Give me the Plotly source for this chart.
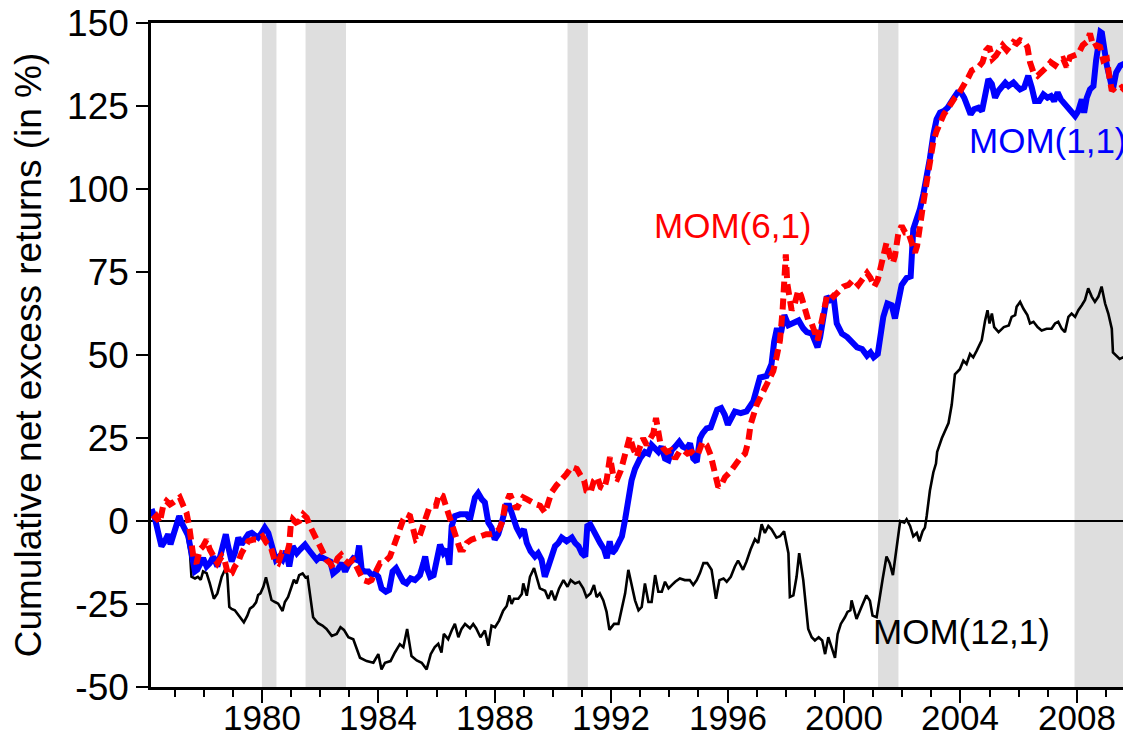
import plotly.graph_objects as go

# ---------------- data ----------------
mom12_x = [1977.10, 1977.18, 1977.40, 1977.53, 1977.58, 1977.70, 1977.80, 1977.90, 1977.98, 1978.10,
           1978.21, 1978.35, 1978.47, 1978.62, 1978.73, 1978.81, 1978.88, 1978.96, 1979.07, 1979.24,
           1979.38, 1979.50, 1979.59, 1979.70, 1979.80, 1979.87, 1979.95, 1980.05, 1980.14, 1980.22,
           1980.33, 1980.45, 1980.56, 1980.71, 1980.79, 1980.90, 1981.02, 1981.10, 1981.19, 1981.28,
           1981.40, 1981.50, 1981.57, 1981.67, 1981.76, 1981.93, 1982.08, 1982.22, 1982.40, 1982.57,
           1982.70, 1982.82, 1982.97, 1983.14, 1983.25, 1983.37, 1983.60, 1983.83, 1984.00, 1984.11,
           1984.23, 1984.42, 1984.57, 1984.74, 1984.86, 1984.99, 1985.14, 1985.32, 1985.49, 1985.66,
           1985.80, 1985.94, 1986.06, 1986.17, 1986.25, 1986.40, 1986.52, 1986.63, 1986.75, 1986.86,
           1986.98, 1987.15, 1987.26, 1987.36, 1987.51, 1987.66, 1987.78, 1987.89, 1988.01, 1988.15,
           1988.29, 1988.41, 1988.50, 1988.58, 1988.66, 1988.81, 1988.93, 1988.98, 1989.10, 1989.21,
           1989.35, 1989.46, 1989.55, 1989.73, 1989.84, 1989.95, 1990.07, 1990.21, 1990.36, 1990.50,
           1990.61, 1990.76, 1990.90, 1991.04, 1991.15, 1991.29, 1991.41, 1991.50, 1991.61, 1991.73,
           1991.84, 1991.94, 1992.10, 1992.25, 1992.36, 1992.48, 1992.59, 1992.71, 1992.82, 1992.94,
           1993.05, 1993.16, 1993.28, 1993.39, 1993.51, 1993.62, 1993.74, 1993.85, 1993.97, 1994.08,
           1994.20, 1994.36, 1994.53, 1994.70, 1994.82, 1994.94, 1995.05, 1995.17, 1995.30, 1995.45,
           1995.60, 1995.72, 1995.86, 1995.97, 1996.11, 1996.25, 1996.36, 1996.53, 1996.65, 1996.79,
           1996.94, 1997.05, 1997.17, 1997.28, 1997.40, 1997.51, 1997.68, 1997.80, 1997.94, 1998.09,
           1998.14, 1998.26, 1998.37, 1998.46, 1998.60, 1998.77, 1998.89, 1999.00, 1999.13, 1999.25,
           1999.35, 1999.46, 1999.57, 1999.69, 1999.78, 1999.89, 2000.03, 2000.12, 2000.22, 2000.26,
           2000.32, 2000.43, 2000.60, 2000.77, 2000.89, 2000.98, 2001.12, 2001.22, 2001.33, 2001.46,
           2001.57, 2001.68, 2001.81, 2001.93, 2002.07, 2002.15, 2002.27, 2002.38, 2002.50, 2002.59,
           2002.70, 2002.78, 2002.84, 2002.95, 2003.07, 2003.16, 2003.20, 2003.36, 2003.59, 2003.70,
           2003.81, 2003.98, 2004.10, 2004.21, 2004.33, 2004.44, 2004.56, 2004.73, 2004.85, 2004.93,
           2005.00, 2005.08, 2005.16, 2005.31, 2005.49, 2005.66, 2005.76, 2005.88, 2005.93, 2006.05,
           2006.16, 2006.30, 2006.39, 2006.51, 2006.65, 2006.79, 2006.96, 2007.13, 2007.25, 2007.36,
           2007.48, 2007.59, 2007.71, 2007.82, 2007.94, 2008.05, 2008.17, 2008.28, 2008.39, 2008.51,
           2008.62, 2008.74, 2008.85, 2008.97, 2009.08, 2009.20, 2009.24, 2009.36, 2009.47, 2009.59,
           2009.70, 2009.86]
mom12_y = [1.5, 1, -3.6, -9.7, -16.8, -17.3, -16.8, -17.7, -15.2, -15.7,
           -18.8, -23.4, -21.8, -16.8, -14.7, -16, -25.9, -26.5, -26.9, -29,
           -30.5, -28.5, -26.4, -25.7, -24.5, -22.3, -21.8, -19.8, -17, -19.8,
           -23.8, -24.4, -24.9, -27.1, -24.4, -22.9, -19.8, -17.7, -18.8, -16.3,
           -15.8, -17, -16.8, -22.9, -29, -30.8, -31.5, -32.5, -34.6, -34,
           -32, -32.8, -35, -35.6, -38.1, -41.2, -42.2, -42.7, -40.1, -44.7,
           -42.7, -42.2, -39.6, -37.1, -38, -32.5, -40.7, -42, -42.7, -44.7,
           -40.1, -38, -37, -39.6, -34, -35.6, -33, -31, -35, -32.5,
           -31, -32.3, -31, -32.3, -35, -33, -37.6, -31.5, -32, -30,
           -27, -25.6, -22.4, -25, -23.4, -23.4, -22, -18.8, -22.5, -16.8,
           -14.2, -17.5, -20.3, -21, -23.4, -21, -23.9, -20.3, -17.8, -19.8,
           -17.8, -18.8, -18.3, -20.3, -22.9, -21.8, -19.3, -22.9, -21.8, -23.9,
           -27.3, -32.8, -31, -31, -26.4, -21.8, -14.7, -19.8, -23.9, -26.9,
           -25.9, -18.8, -24.4, -24.4, -16.3, -21.3, -21.3, -18.3, -20.3, -19.3,
           -18.3, -17.3, -17.8, -17.8, -19.3, -17.8, -15.7, -12.7, -12.7, -14.7,
           -23.4, -17.8, -17.3, -18.3, -16.8, -13.7, -11.9, -14.7, -12.2, -8.6,
           -5.5, -6.6, -1, -3.6, -1.5, -2.5, -5, -4.6, -3.1, -9.7,
           -22.9, -22.4, -16.8, -9.7, -17.8, -32.5, -35, -36, -35, -36,
           -40.1, -35, -38, -41.2, -34.1, -31, -29, -27.4, -26.9, -23.9,
           -25.9, -29.5, -25.9, -22.4, -24, -28.5, -29, -22.9, -17.3, -10.7,
           -12.7, -16.3, -8.6, 0, -0.5, 0.5, -1.5, -4.6, -3.6, -6.1,
           -3.1, -2, 1.5, 9.1, 14.7, 17.3, 20.8, 24.9, 29.5, 35,
           44.2, 45.7, 48.3, 47.3, 50.3, 49.3, 51.3, 54.4, 60.5, 63.5,
           59.5, 62.5, 58.4, 56.9, 58.4, 58.9, 61.5, 62, 64.5, 66,
           64, 62, 59.5, 60, 58.4, 57.4, 57.9, 57.9, 59.5, 60,
           57.9, 56.9, 61.5, 62.5, 61.5, 63.5, 65, 66.6, 70.1, 67.6,
           66, 67.6, 70.6, 65.5, 62.5, 57.9, 50.8, 49.8, 48.8, 49.3,
           48.3, 48.5]

mom1_x = [1976.21, 1976.32, 1976.44, 1976.55, 1976.67, 1976.78, 1976.86, 1976.94, 1977.07, 1977.16,
          1977.24, 1977.35, 1977.47, 1977.58, 1977.70, 1977.78, 1977.87, 1977.98, 1978.10, 1978.21,
          1978.33, 1978.47, 1978.58, 1978.67, 1978.76, 1978.84, 1978.96, 1979.07, 1979.19, 1979.30,
          1979.42, 1979.53, 1979.65, 1979.76, 1979.87, 1979.99, 1980.10, 1980.22, 1980.33, 1980.48,
          1980.60, 1980.71, 1980.83, 1980.94, 1981.06, 1981.20, 1981.31, 1981.48, 1981.60, 1981.71,
          1981.88, 1982.00, 1982.17, 1982.35, 1982.45, 1982.60, 1982.74, 1982.86, 1982.97, 1983.14,
          1983.26, 1983.34, 1983.43, 1983.54, 1983.66, 1983.77, 1983.89, 1984.00, 1984.11, 1984.26,
          1984.37, 1984.49, 1984.61, 1984.74, 1984.86, 1984.97, 1985.11, 1985.26, 1985.43, 1985.55,
          1985.61, 1985.69, 1985.78, 1985.90, 1986.01, 1986.12, 1986.24, 1986.35, 1986.44, 1986.52,
          1986.63, 1986.81, 1987.03, 1987.15, 1987.32, 1987.43, 1987.55, 1987.66, 1987.78, 1987.89,
          1988.00, 1988.12, 1988.24, 1988.39, 1988.50, 1988.64, 1988.75, 1988.87, 1989.00, 1989.10,
          1989.23, 1989.38, 1989.49, 1989.61, 1989.72, 1989.84, 1989.95, 1990.07, 1990.19, 1990.30,
          1990.47, 1990.65, 1990.76, 1990.88, 1990.99, 1991.11, 1991.18, 1991.28, 1991.40, 1991.50,
          1991.62, 1991.76, 1991.85, 1991.95, 1992.03, 1992.14, 1992.25, 1992.37, 1992.48, 1992.59,
          1992.70, 1992.82, 1992.99, 1993.16, 1993.28, 1993.39, 1993.50, 1993.62, 1993.73, 1993.85,
          1993.97, 1994.08, 1994.20, 1994.34, 1994.46, 1994.60, 1994.71, 1994.82, 1994.94, 1995.05,
          1995.14, 1995.28, 1995.42, 1995.53, 1995.64, 1995.78, 1995.90, 1996.01, 1996.13, 1996.25,
          1996.45, 1996.65, 1996.88, 1997.00, 1997.11, 1997.34, 1997.51, 1997.60, 1997.68, 1997.85,
          1997.95, 1998.09, 1998.26, 1998.44, 1998.60, 1998.72, 1998.90, 1999.01, 1999.09,
          1999.18, 1999.29, 1999.41, 1999.52, 1999.64, 1999.75, 1999.93, 2000.11, 2000.28, 2000.45,
          2000.62, 2000.79, 2000.91, 2001.02, 2001.16, 2001.24, 2001.35, 2001.49, 2001.64, 2001.75,
          2001.87, 2001.98, 2002.15, 2002.29, 2002.38, 2002.50, 2002.61, 2002.73, 2002.84, 2002.95,
          2003.07, 2003.18, 2003.30, 2003.43, 2003.56, 2003.65, 2003.78, 2003.90, 2004.02, 2004.13,
          2004.25, 2004.35, 2004.47, 2004.62, 2004.74, 2004.85, 2004.96, 2005.08, 2005.19, 2005.31,
          2005.42, 2005.54, 2005.65, 2005.82, 2005.93, 2006.05, 2006.19, 2006.33, 2006.45, 2006.56,
          2006.71, 2006.85, 2006.99, 2007.11, 2007.22, 2007.34, 2007.45, 2007.59, 2007.77, 2007.94,
          2008.05, 2008.17, 2008.25, 2008.34, 2008.45, 2008.57, 2008.66, 2008.81, 2008.86, 2008.93,
          2009.03, 2009.14, 2009.23, 2009.35, 2009.49, 2009.62, 2009.74, 2009.86]
mom1_y = [3.6, 1, -3.6, -7.6, -6, -4, -7, -5, -1.5, 1.5,
          -0.5, -3, -4.5, -9.7, -15.2, -14.7, -12.7, -11.2, -13.7, -12.7,
          -10.7, -13.7, -10.2, -7.6, -4, -7.6, -12.2, -9.7, -5, -7,
          -5.5, -4, -3.6, -4.6, -5, -3.6, -2, -3.6, -7.6, -11.7,
          -10.7, -11.7, -9.1, -13.7, -7.6, -9.7, -8.6, -7.1, -8.6, -9.7,
          -11.7, -10.7, -11.2, -12.2, -15.8, -14.7, -12.7, -15.2, -13.2, -11.2,
          -11.7, -7.4, -14.7, -15.2, -15.2, -16.3, -15.8, -16.8, -20.3, -21.3,
          -20.8, -15.2, -14.2, -16.3, -18.3, -18.8, -17.3, -17.8, -16.3, -12.7,
          -10.7, -14.7, -16.8, -16.3, -11.7, -7.1, -9.7, -8.6, -13.2, -1.5,
          1.5, 2, 2, 0.5, 7.1, 8.4, 6.6, 5.6, -0.5, -2,
          -5.6, -4, -0.5, 4.6, 4.6, 0, -2, -4, -2.5, -6.6,
          -9.1, -10.7, -9.7, -11.7, -16.8, -13.7, -10.7, -7.6, -6.6, -5,
          -6.1, -5, -6.6, -7.6, -9.7, -10.7, -1.5, -1, -3, -5,
          -6.6, -8.6, -11.2, -6.1, -9.7, -8.6, -6.6, -4.6, 0.5, 7.6,
          12.2, 15.7, 18.8, 20.8, 20.3, 22.9, 21.8, 20.8, 22.4, 18.8,
          18.3, 21.3, 22.4, 23.9, 22.4, 21.8, 23.4, 18.8, 17.8, 24.9,
          26.4, 27.9, 28.2, 31, 33.5, 34, 32, 29, 31.5, 33,
          32.5, 33, 36, 40, 43.2, 43.7, 47.3, 54, 57.4, 57.4,
          62, 59, 59.9, 60.4, 58, 56.9, 56.4, 54.4, 52.3,
          55.4, 60.5, 67.6, 66.6, 67.6, 59.5, 56.4, 55.4, 53.8, 52.3,
          51.8, 49.8, 50.8, 49.3, 50.3, 56.4, 61.5, 65.5, 65, 61,
          67.6, 71.1, 73.2, 73.7, 87.9, 90.5, 94, 98.6, 103.2, 109.2,
          116.4, 121, 123, 123.5, 124.5, 125.5, 127.5, 129.1, 129.1, 127.5,
          125, 122.5, 124, 124.5, 123.5, 129.1, 133.1, 131.6, 127.5, 129.6,
          131, 132, 131, 132.1, 131, 130, 130.6, 134.1, 130.6, 126.5,
          126.5, 128.5, 127.5, 128, 126.5, 129.1, 127, 125.5, 123.5, 122,
          123.5, 127, 123, 127.5, 130, 131, 138.7, 147.3, 147, 142,
          137.2, 133.1, 129.6, 135.1, 137.2, 137.7, 136.8, 131]

mom6_x = [1976.26, 1976.37, 1976.49, 1976.61, 1976.72, 1976.84, 1976.95, 1977.07, 1977.18, 1977.30,
          1977.41, 1977.50, 1977.58, 1977.66, 1977.75, 1977.87, 1977.98, 1978.10, 1978.21, 1978.33,
          1978.47, 1978.62, 1978.73, 1978.84, 1978.96, 1979.07, 1979.19, 1979.30, 1979.42, 1979.53,
          1979.70, 1979.87, 1980.02, 1980.16, 1980.30, 1980.45, 1980.56, 1980.68, 1980.85, 1980.94,
          1980.99, 1981.06, 1981.17, 1981.29, 1981.42, 1981.54, 1981.65, 1981.76, 1981.88, 1982.00,
          1982.11, 1982.22, 1982.34, 1982.45, 1982.60, 1982.72, 1982.83, 1982.97, 1983.14, 1983.26,
          1983.37, 1983.48, 1983.66, 1983.77, 1983.89, 1983.97, 1984.06, 1984.17, 1984.29, 1984.40,
          1984.51, 1984.63, 1984.74, 1984.86, 1984.97, 1985.09, 1985.20, 1985.29, 1985.40, 1985.51,
          1985.63, 1985.75, 1985.86, 1985.98, 1986.09, 1986.21, 1986.32, 1986.46, 1986.58, 1986.69,
          1986.81, 1986.92, 1987.04, 1987.20, 1987.38, 1987.55, 1987.71, 1987.84, 1988.01, 1988.15,
          1988.27, 1988.35, 1988.44, 1988.52, 1988.64, 1988.75, 1988.87, 1988.98, 1989.10, 1989.27,
          1989.42, 1989.56, 1989.73, 1989.84, 1989.95, 1990.12, 1990.30, 1990.47, 1990.64, 1990.82,
          1990.95, 1991.07, 1991.15, 1991.29, 1991.41, 1991.52, 1991.64, 1991.76, 1991.85, 1991.96,
          1992.08, 1992.21, 1992.33, 1992.44, 1992.52, 1992.64, 1992.76, 1992.88, 1992.99, 1993.10,
          1993.22, 1993.33, 1993.45, 1993.54, 1993.59, 1993.68, 1993.80, 1993.91, 1994.05, 1994.20,
          1994.34, 1994.48, 1994.62, 1994.77, 1994.88, 1994.99, 1995.14, 1995.28, 1995.42, 1995.51,
          1995.60, 1995.68, 1995.80, 1995.91, 1996.08, 1996.25, 1996.42, 1996.60, 1996.71, 1996.79,
          1996.88, 1997.00, 1997.23, 1997.40, 1997.57, 1997.68, 1997.80, 1997.89, 1997.97, 1998.00,
          1998.05, 1998.13, 1998.20, 1998.31, 1998.43, 1998.52, 1998.60, 1998.69, 1998.77, 1998.89,
          1999.01, 1999.09, 1999.18, 1999.29, 1999.41, 1999.52, 1999.64, 1999.81, 1999.98, 2000.15,
          2000.32, 2000.49, 2000.62, 2000.79, 2000.91, 2001.04, 2001.16, 2001.26, 2001.35, 2001.46,
          2001.58, 2001.68, 2001.75, 2001.87, 2001.98, 2002.10, 2002.21, 2002.32, 2002.44, 2002.51,
          2002.61, 2002.73, 2002.84, 2002.95, 2003.07, 2003.18, 2003.30, 2003.43, 2003.59, 2003.70,
          2003.81, 2003.93, 2004.04, 2004.16, 2004.27, 2004.39, 2004.50, 2004.62, 2004.76, 2004.88,
          2004.99, 2005.10, 2005.22, 2005.34, 2005.45, 2005.59, 2005.70, 2005.82, 2005.93, 2006.05,
          2006.19, 2006.30, 2006.39, 2006.51, 2006.65, 2006.79, 2006.96, 2007.10, 2007.25, 2007.36,
          2007.53, 2007.65, 2007.76, 2007.90, 2008.05, 2008.20, 2008.34, 2008.45, 2008.57, 2008.68,
          2008.80, 2008.91, 2009.03, 2009.12, 2009.20, 2009.32, 2009.44, 2009.54, 2009.66, 2009.86]
mom6_y = [0.5, 1.5, -0.5, 4.6, 6, 5, 5.6, 6.6, 7.1, 4.6,
          2.5, -1.5, -7.6, -11.7, -12.7, -8.6, -7.6, -5.6, -8.6, -10.7,
          -12.7, -10.7, -12.2, -16.3, -15.8, -13.7, -12.2, -9.7, -8.1, -6.1,
          -5.6, -5.6, -4.6, -6.6, -7.6, -12.2, -12.7, -9.7, -10.2, -7.1,
          -1.5, 0.5, -0.5, 0, 2, 1, -1.5, -4, -5.6, -7.6,
          -9.7, -11.7, -12.7, -14.2, -11.2, -10.2, -11.7, -12.7, -11.7, -13.7,
          -16.3, -17.8, -18.3, -17.8, -15.7, -13.7, -12.7, -12.7, -11.7, -10.7,
          -8.1, -5, -2, 0.5, 2, 1.5, -2.5, -5.6, -5, -2,
          0, 4, 4.6, 4.6, 8.1, 7.6, 4.6, 1, -1.5, -5,
          -8.6, -8.6, -6.6, -5.6, -5, -4.6, -4, -4, -3.6, -2.5,
          0, 4.6, 7.1, 8.1, 5.6, 3.6, 5.6, 7.1, 6.6, 5.6,
          5, 4.6, 2.5, 5.6, 8.6, 10.7, 12.2, 14.2, 16.3, 15.7,
          13.7, 12.2, 9.1, 8.6, 12.2, 13.2, 10.2, 9.7, 12.7, 19.3,
          13.2, 12.7, 15.2, 18.8, 20.8, 25.4, 21.8, 19.3, 22.4, 24.9,
          22.9, 24.9, 26.4, 31, 29, 23.9, 21.8, 20.8, 21.3, 18.8,
          20.8, 21.3, 20.3, 20.8, 19.8, 20.3, 23.9, 22.9, 19.8, 16.8,
          12.7, 10.2, 11.2, 13.2, 14.7, 16.8, 18.8, 20.3, 23.9, 29,
          32, 35, 39.1, 41.7, 45.2, 49.3, 54.4, 63.5, 76.7, 80.3,
          71.6, 66.6, 63.5, 65.5, 69.6, 68, 65.5, 64, 60.5, 59.5,
          56.9, 54.4, 57.9, 63.5, 67.6, 68.6, 67.6, 69.1, 70.6, 71.1,
          72.7, 71.1, 72.7, 74.7, 73.2, 70.6, 72.7, 76.7, 80.8, 83.8,
          79.8, 77.7, 79.8, 86.9, 88.9, 86.9, 86.9, 83.8, 80.8, 82.8,
          89.9, 96, 102.1, 108.2, 114.3, 117.4, 120.4, 122.5, 124.5, 126.5,
          127.5, 128.5, 130, 131.6, 133.6, 135.7, 136.2, 136.7, 138.2, 141.8,
          142.8, 139.2, 140.2, 142.3, 143.3, 141.8, 142.8, 144.3, 143.8, 144.8,
          144.3, 142.8, 138.2, 135.1, 134.1, 135.1, 136.7, 138.2, 137.2, 138.7,
          139.2, 136.7, 139.7, 140.2, 140.7, 143.3, 144.3, 146.8, 142.8, 143.3,
          142.8, 138.7, 139.2, 133.6, 129.6, 130.6, 130, 130.6, 129.6, 130]

recession_start = [1980.0, 1981.5, 1990.5, 2001.17, 2007.92]
recession_end = [1980.5, 1982.89, 1991.2, 2001.87, 2009.86]

x_tick_vals = [1980, 1984, 1988, 1992, 1996, 2000, 2004, 2008]
x_tick_text = ["1980", "1984", "1988", "1992", "1996", "2000", "2004", "2008"]
y_tick_vals = [-50, -25, 0, 25, 50, 75, 100, 125, 150]
y_tick_text = ["-50", "-25", "0", "25", "50", "75", "100", "125", "150"]

series_labels = ["MOM(12,1)", "MOM(1,1)", "MOM(6,1)"]
y_title = "Cumulative net excess returns (in %)"

assert len(mom12_x) == len(mom12_y)
assert len(mom1_x) == len(mom1_y)
assert len(mom6_x) == len(mom6_y)

# ---------------- figure ----------------
# the page body has an 8px default margin, so the figure is 8px smaller
FONT = "Liberation Sans, Arial, Helvetica, sans-serif"
fig = go.Figure()

for s, e in zip(recession_start, recession_end):
    fig.add_vrect(x0=s, x1=e, fillcolor="#dedede", opacity=1, line_width=0, layer="below")

fig.add_trace(go.Scatter(x=mom12_x, y=mom12_y, mode="lines", name=series_labels[0],
                         line=dict(color="black", width=2.6)))
fig.add_trace(go.Scatter(x=mom1_x, y=mom1_y, mode="lines", name=series_labels[1],
                         line=dict(color="#0000ff", width=6)))
fig.add_trace(go.Scatter(x=mom6_x, y=mom6_y, mode="lines", name=series_labels[2],
                         line=dict(color="#ff0000", width=6, dash="11px,6px")))

fig.add_annotation(x=1996.17, y=89, xref="x", yref="y", text=series_labels[2], showarrow=False,
                   font=dict(family=FONT, size=35, color="#ff0000"))
fig.add_annotation(x=2007.01, y=114.5, xref="x", yref="y", text=series_labels[1], showarrow=False,
                   font=dict(family=FONT, size=35, color="#0000ff"))
fig.add_annotation(x=2004.05, y=-33.3, xref="x", yref="y", text=series_labels[0], showarrow=False,
                   font=dict(family=FONT, size=35, color="black"))

# x tick labels placed just below the axis (closer than the axis' own labels allow)
for v, t in zip(x_tick_vals, x_tick_text):
    fig.add_annotation(x=v, y=0, xref="x", yref="paper", yanchor="top", yshift=-10,
                       text=t, showarrow=False, borderpad=0,
                       font=dict(family=FONT, size=35, color="black"))

fig.update_layout(
    width=1123, height=728,
    margin=dict(l=143, r=0, t=15, b=49, autoexpand=False),
    paper_bgcolor="white", plot_bgcolor="white",
    showlegend=False,
    font=dict(family=FONT, color="black"),
)
fig.update_xaxes(
    range=[1976.19, 2009.86], tickmode="array", tickvals=x_tick_vals, ticktext=x_tick_text,
    showticklabels=False,
    ticks="outside", ticklen=13, tickwidth=2, tickcolor="black",
    showline=True, linewidth=2.5, linecolor="black", mirror=True,
    showgrid=False, zeroline=False,
    minor=dict(tickmode="linear", tick0=1976, dtick=1, ticks="outside", ticklen=7,
               tickwidth=1.5, tickcolor="black", showgrid=False),
)
fig.update_yaxes(
    range=[-50, 150], tickmode="array", tickvals=y_tick_vals, ticktext=y_tick_text,
    ticks="outside", ticklen=12, tickwidth=2, tickcolor="black",
    showline=True, linewidth=2.5, linecolor="black",
    showgrid=False, zeroline=True, zerolinecolor="black", zerolinewidth=1.5,
    tickfont=dict(size=37, family=FONT, color="black"),
    ticklabeloverflow="allow",
    title=dict(text=y_title, font=dict(size=37, family=FONT, color="black"), standoff=18),
)

fig.write_html("out.html")
